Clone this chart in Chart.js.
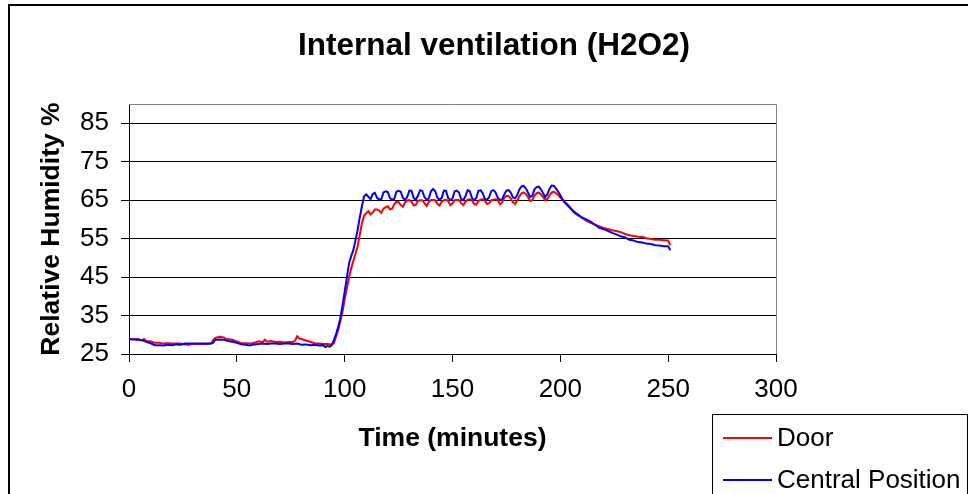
<!DOCTYPE html>
<html>
<head>
<meta charset="utf-8">
<script src="https://cdn.jsdelivr.net/npm/chart.js@4.4.0/dist/chart.umd.min.js"></script>
<style>
  html, body { margin: 0; padding: 0; background: #fff; }
  #wrap { width: 968px; height: 494px; }
</style>
</head>
<body>
<div id="wrap"><canvas id="c" width="968" height="494"></canvas></div>
<script>
const chartTitle = 'Internal ventilation (H2O2)';
const xTitle = 'Time (minutes)';
const yTitle = 'Relative Humidity %';
const seriesNames = ['Door', 'Central Position'];

const doorMinutes = [0,2,4,6,7,8,10,12,14,16,18,20,22,24,26,28,29,32,36,38,39,40,42,44,45,48,50,52,54,56,58,60,62,63,64,66,68,70,72,74,76,77,78,79,80,82,84,86,88,90,92,94,
  95,96,97,98,99,100,101,102,103,104,105,106,107,108,109,110,
  111,112,113,114,115,116,117,118,119,120,121,122,123,124,125,126,127,128,129,130,
  131,132,133,134,135,136,137,138,139,140,141,142,143,144,145,146,147,148,149,150,
  151,152,153,154,155,156,157,158,159,160,161,162,163,164,165,166,167,168,169,170,
  171,172,173,174,175,176,177,178,179,180,181,182,183,184,185,186,187,188,189,190,
  191,192,193,194,195,196,197,198,199,200,201,202,203,204,205,206,207,208,209,210,
  212,214,216,218,220,222,224,226,228,230,232,234,236,238,240,242,244,246,248,250,251];
const doorRH = [28.9,28.8,28.9,28.6,28.9,28.4,28.3,27.9,27.9,27.7,27.8,27.7,27.7,27.7,27.5,27.4,27.6,27.6,27.6,27.7,28.6,29.2,29.5,29.3,28.9,28.7,28.3,27.8,27.8,27.7,27.9,28.3,28.1,28.7,28.2,28.4,28.1,28.2,28.0,28.1,28.1,28.5,29.6,29.0,28.9,28.5,28.2,27.8,27.7,27.6,27.6,27.5,
  27.8,29.5,31.2,33.5,36.0,39.2,42.0,44.8,47.2,49.2,51.0,53.0,56.0,59.0,61.0,61.6,
  62.1,61.3,61.8,62.6,62.6,62.3,61.7,62.8,63.2,63.4,62.6,62.8,63.9,64.6,64.5,63.7,63.3,64.4,64.9,65.0,
  64.6,63.6,63.8,64.8,65.0,65.0,64.2,63.5,64.5,65.0,65.1,65.0,64.0,63.6,64.6,65.0,65.1,64.8,63.7,64.2,
  65.0,65.1,65.0,64.3,63.7,64.6,65.1,65.2,65.0,64.0,63.8,64.8,65.1,65.2,65.0,64.0,64.2,65.0,65.1,65.2,
  65.0,63.9,64.4,65.6,66.1,66.1,65.5,64.5,64.0,64.9,66.0,66.8,67.0,66.6,65.8,64.8,65.0,66.2,66.8,67.0,
  66.5,65.8,65.0,65.3,66.3,67.0,67.2,66.8,66.3,65.7,65.1,64.4,63.8,63.2,62.6,62.0,61.5,61.1,60.8,60.4,
  59.7,59.1,58.7,58.2,57.8,57.5,57.2,57.0,56.7,56.2,55.9,55.7,55.5,55.4,55.1,54.9,54.7,54.7,54.6,54.5,53.3];

const centralMinutes = [0,3,6,8,10,12,14,16,18,20,22,24,26,30,34,38,39,40,42,44,46,48,50,52,54,56,58,60,62,64,66,68,70,72,74,76,78,80,82,84,86,88,90,91,92,93,94,
  95,96,97,98,99,100,101,102,103,104,105,106,107,108,109,110,
  111,112,113,114,115,116,117,118,119,120,121,122,123,124,125,126,127,128,129,130,
  131,132,133,134,135,136,137,138,139,140,141,142,143,144,145,146,147,148,149,150,
  151,152,153,154,155,156,157,158,159,160,161,162,163,164,165,166,167,168,169,170,
  171,172,173,174,175,176,177,178,179,180,181,182,183,184,185,186,187,188,189,190,
  191,192,193,194,195,196,197,198,199,200,201,202,203,204,205,206,207,208,209,210,
  212,214,216,218,220,222,224,226,228,230,232,234,236,238,240,242,244,246,248,250,251];
const centralRH = [28.9,28.8,28.6,28.2,27.8,27.3,27.3,27.2,27.4,27.3,27.5,27.4,27.7,27.7,27.7,27.7,27.9,28.7,28.8,28.7,28.4,28.2,27.9,27.5,27.4,27.2,27.5,27.6,27.7,27.6,27.7,27.7,27.6,27.7,27.7,27.6,27.7,27.4,27.5,27.3,27.4,27.2,27.3,26.8,27.1,26.9,27.3,
  28.6,30.2,32.0,34.3,37.6,41.2,44.8,48.5,50.4,52.0,54.5,57.2,60.5,63.4,66.0,66.5,
  65.9,65.2,66.6,66.9,65.6,65.2,65.3,67.0,67.3,67.1,65.5,65.1,65.3,67.2,67.4,67.2,65.6,65.1,65.8,67.5,
  67.4,65.6,65.1,66.2,67.6,67.4,65.8,65.1,65.4,67.3,67.9,67.3,65.6,65.1,65.6,67.5,67.4,65.5,65.1,65.4,
  67.3,67.5,67.0,65.3,65.0,66.0,67.6,67.3,65.6,65.0,65.5,67.4,67.6,66.8,65.3,65.1,65.8,67.4,67.6,67.0,
  65.6,65.1,65.2,66.5,67.5,67.6,67.0,65.7,65.5,66.3,67.8,68.6,68.7,68.1,67.0,65.8,66.2,67.8,68.4,68.5,
  67.8,66.8,65.8,66.6,68.0,68.8,68.7,68.0,67.2,66.3,65.2,64.5,64.0,63.4,62.8,62.2,61.7,61.3,60.9,60.5,
  60.0,59.4,58.6,57.8,57.5,57.0,56.5,56.1,55.6,55.3,54.7,54.5,54.1,54.0,53.7,53.6,53.3,53.2,53.0,53.0,52.0];

const xTickValues = [0, 50, 100, 150, 200, 250, 300];
const yTickValues = [25, 35, 45, 55, 65, 75, 85];
const xRange = { min: 0, max: 300 };
const yRange = { min: 25, max: 90 };
const seriesColors = ['#FF0000', '#0000FF'];

const FONT = '"Liberation Sans", Arial, Helvetica, sans-serif';

function pairs(xs, ys) { return xs.map((x, i) => ({ x: x, y: ys[i] })); }

const decor = {
  id: 'decor',
  beforeDraw(chart) {
    const ctx = chart.ctx;
    ctx.save();
    ctx.fillStyle = '#fff';
    ctx.fillRect(0, 0, chart.width, chart.height);
    ctx.strokeStyle = '#000';
    ctx.lineWidth = 2;
    ctx.strokeRect(9, 5, 1100, 1100);
    ctx.restore();
  },
  afterDraw(chart) {
    const ctx = chart.ctx;
    const a = chart.chartArea;
    ctx.save();
    ctx.strokeStyle = '#808080';
    ctx.lineWidth = 1;
    ctx.beginPath();
    ctx.moveTo(a.left, a.top + 0.5);
    ctx.lineTo(a.right + 0.5, a.top + 0.5);
    ctx.lineTo(a.right + 0.5, a.bottom);
    ctx.stroke();
    ctx.fillStyle = '#000';
    ctx.font = 'bold 31.5px ' + FONT;
    ctx.textAlign = 'center';
    ctx.textBaseline = 'middle';
    ctx.fillText(chartTitle, 494, 46);
    ctx.strokeStyle = '#000';
    ctx.lineWidth = 1;
    ctx.strokeRect(712.5, 414.5, 255, 120);
    ctx.font = '26px ' + FONT;
    ctx.textAlign = 'left';
    const rows = [438, 480];
    seriesNames.forEach((name, i) => {
      ctx.strokeStyle = seriesColors[i];
      ctx.lineWidth = 2;
      ctx.beginPath();
      ctx.moveTo(723, rows[i]);
      ctx.lineTo(772, rows[i]);
      ctx.stroke();
      ctx.fillStyle = '#000';
      ctx.fillText(name, 777, rows[i] + 1);
    });
    ctx.restore();
  }
};

new Chart(document.getElementById('c'), {
  type: 'line',
  data: {
    datasets: [
      { label: seriesNames[0], data: pairs(doorMinutes, doorRH), borderColor: seriesColors[0], backgroundColor: seriesColors[0], borderWidth: 2, pointRadius: 0, tension: 0, order: 1 },
      { label: seriesNames[1], data: pairs(centralMinutes, centralRH), borderColor: seriesColors[1], backgroundColor: seriesColors[1], borderWidth: 2, pointRadius: 0, tension: 0, order: 0 }
    ]
  },
  options: {
    responsive: false,
    animation: false,
    devicePixelRatio: 1,
    layout: { padding: { left: 0, top: 104, right: 192, bottom: 0 } },
    plugins: { legend: { display: false }, title: { display: false }, tooltip: { enabled: false } },
    scales: {
      x: {
        type: 'linear',
        min: xRange.min, max: xRange.max,
        afterBuildTicks(s) { s.ticks = xTickValues.map(v => ({ value: v })); },
        ticks: { color: '#000', font: { family: FONT, size: 26 }, padding: 12, maxRotation: 0, autoSkip: false },
        grid: { drawOnChartArea: false, drawTicks: true, tickLength: 8, color: '#000', lineWidth: 1 },
        border: { display: true, color: '#000', width: 1 },
        title: { display: true, text: xTitle, color: '#000', font: { family: FONT, size: 26.5, weight: 'bold' }, padding: { top: 0, bottom: 39 } },
        afterFit(s) { s.height = 140; }
      },
      y: {
        type: 'linear',
        min: yRange.min, max: yRange.max,
        afterBuildTicks(s) { s.ticks = yTickValues.map(v => ({ value: v })); },
        ticks: { color: '#000', font: { family: FONT, size: 26 }, padding: 12, autoSkip: false },
        grid: { drawTicks: true, tickLength: 8, color: '#000', lineWidth: 1 },
        border: { display: true, color: '#000', width: 1 },
        title: { display: true, text: yTitle, color: '#000', font: { family: FONT, size: 26.5, weight: 'bold' }, padding: { top: 36, bottom: 0 } },
        afterFit(s) { s.width = 129; }
      }
    }
  },
  plugins: [decor]
});
</script>
</body>
</html>
